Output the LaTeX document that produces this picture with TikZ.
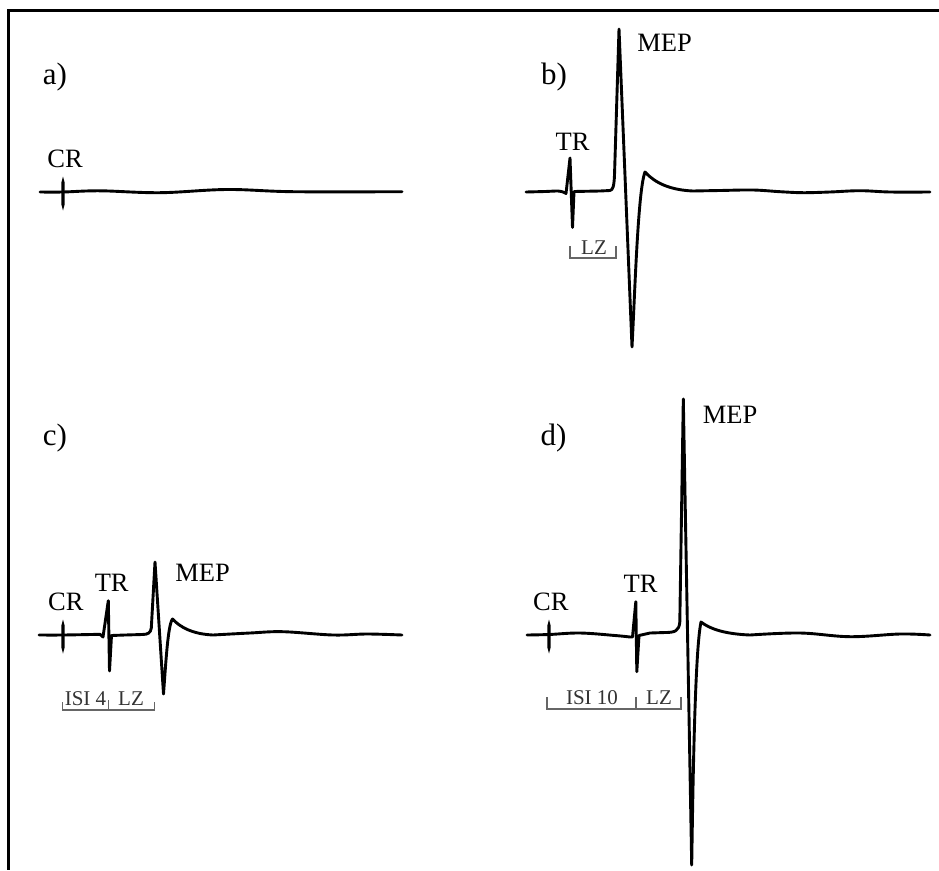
\documentclass[tikz,border=0pt]{standalone}
\usepackage{fontspec}
\setmainfont{Liberation Serif}
\newcommand\mepCRbar[3]{\fill (#1,#2) -- ($(#1,#2)+(1.6,6)$) -- ($(#1,#3)+(1.6,-6)$) -- (#1,#3) -- ($(#1,#3)+(-1.6,-6)$) -- ($(#1,#2)+(-1.6,6)$) -- cycle;}
\usetikzlibrary{calc}
\tikzset{
  trace/.style={line width=2.9pt, line join=round, line cap=round},
  lab/.style={inner sep=0pt, font=\fontsize{26.5}{30}\selectfont},
  panel/.style={inner sep=0pt, font=\fontsize{31}{36}\selectfont},
  small/.style={inner sep=0pt, text=black!80, font=\fontsize{21}{24}\selectfont},
  brk/.style={line width=1.4pt, draw=black!60},
  frame/.style={line width=3pt}
}
\begin{document}
\begin{tikzpicture}[x=1pt,y=-1pt]
\useasboundingbox (0,0) rectangle (939,870);
% frame (top and left only)
\draw[frame] (939,10.5) -- (8,10.5) -- (8,870);

% ---------- panel a ----------
\node[panel] (pa) at (55,77.5) {a)};
\draw[trace] plot[smooth,tension=0.6] coordinates {(40,192) (63,192) (100,190.8) (160,192.7) (227,189.5) (293,191.7) (402,191.7)};
\mepCRbar{63}{176.5}{210.5}
\node[lab] (crA) at (65,159) {CR};

% ---------- panel b ----------
\node[panel] (pb) at (554,77.5) {b)};
\draw[trace] plot[smooth,tension=0.5] coordinates {(526,192) (545,191.5) (558,191) (563,192)}
  -- (566,193.5) -- (570,158) -- (572.5,227.5) -- (574,191.5) -- (600,191) -- (610,190.5)
  .. controls (613,190) and (614,186) .. (614.5,175) -- (619,29) -- (632,347)
  .. controls (635,290) and (638,190) .. (645,172)
  .. controls (655,183) and (670,190) .. (693,191)
  -- plot[smooth,tension=0.6] coordinates {(693,191) (720,190.5) (753,190) (780,191.7) (803,192.7) (830,192) (860,190.7) (890,192) (930,192)};
\node[lab] (trB) at (572.5,141.5) {TR};
\node[lab] (mepB) at (664.5,42.5) {MEP};
\draw[brk] (570,246) -- (570,258) -- (616,258) -- (616,246);
\node[small] (lzB) at (594,248) {LZ};

% ---------- panel c ----------
\node[panel] (pc) at (55,438) {c)};
\draw[trace] plot[smooth,tension=0.6] coordinates {(39,635) (63,635) (100,634.3)}
  -- (103,637) -- (108.3,600.7) -- (109.5,671) -- (111.5,635.5) -- (125,635) -- (142,634.5)
  .. controls (148,634.5) and (150.5,633) .. (151.3,628) -- (155,562) -- (163.5,694)
  .. controls (166,660) and (168,625) .. (172.5,619)
  .. controls (180,627) and (192,634) .. (213,635)
  -- plot[smooth,tension=0.6] coordinates {(213,635) (250,633) (283,631.7) (333,635) (367,634) (402,635)};
\mepCRbar{63}{619.5}{653.5}
\node[lab] (crC) at (65.8,602) {CR};
\node[lab] (trC) at (111.7,583) {TR};
\node[lab] (mepC) at (202.5,573) {MEP};
\draw[brk] (62.7,702) -- (62.7,710) -- (154.3,710) -- (154.3,702);
\draw[brk] (108.3,700) -- (108.3,710);
\node[small] (isiC) at (85.5,699) {ISI 4};
\node[small] (lzC) at (131,699) {LZ};

% ---------- panel d ----------
\node[panel] (pd) at (553.5,438.5) {d)};
\draw[trace] plot[smooth,tension=0.6] coordinates {(527,635) (549,634.5) (580,633) (615,635.5) (630,637)}
  -- (632.5,637) -- (635.8,601.7) -- (636.8,671.7) -- (639,635.5) -- (650,633) -- (665,632.5)
  .. controls (675,632.5) and (679,631) .. (679.8,622) -- (683.3,399) -- (691.7,865)
  .. controls (693,780) and (695,650) .. (701,622)
  .. controls (710,629) and (725,634) .. (750,635)
  -- plot[smooth,tension=0.6] coordinates {(750,635) (800,633) (850,636.7) (900,634) (930,635)};
\mepCRbar{549}{619.5}{653.5}
\node[lab] (crD) at (550.8,602) {CR};
\node[lab] (trD) at (640.5,584) {TR};
\node[lab] (mepD) at (730,415) {MEP};
\draw[brk] (547,697) -- (547,709) -- (681,709) -- (681,697);
\draw[brk] (636,697) -- (636,709);
\node[small] (isiD) at (592,697.5) {ISI 10};
\node[small] (lzD) at (659,697.5) {LZ};
\end{tikzpicture}
\end{document}
